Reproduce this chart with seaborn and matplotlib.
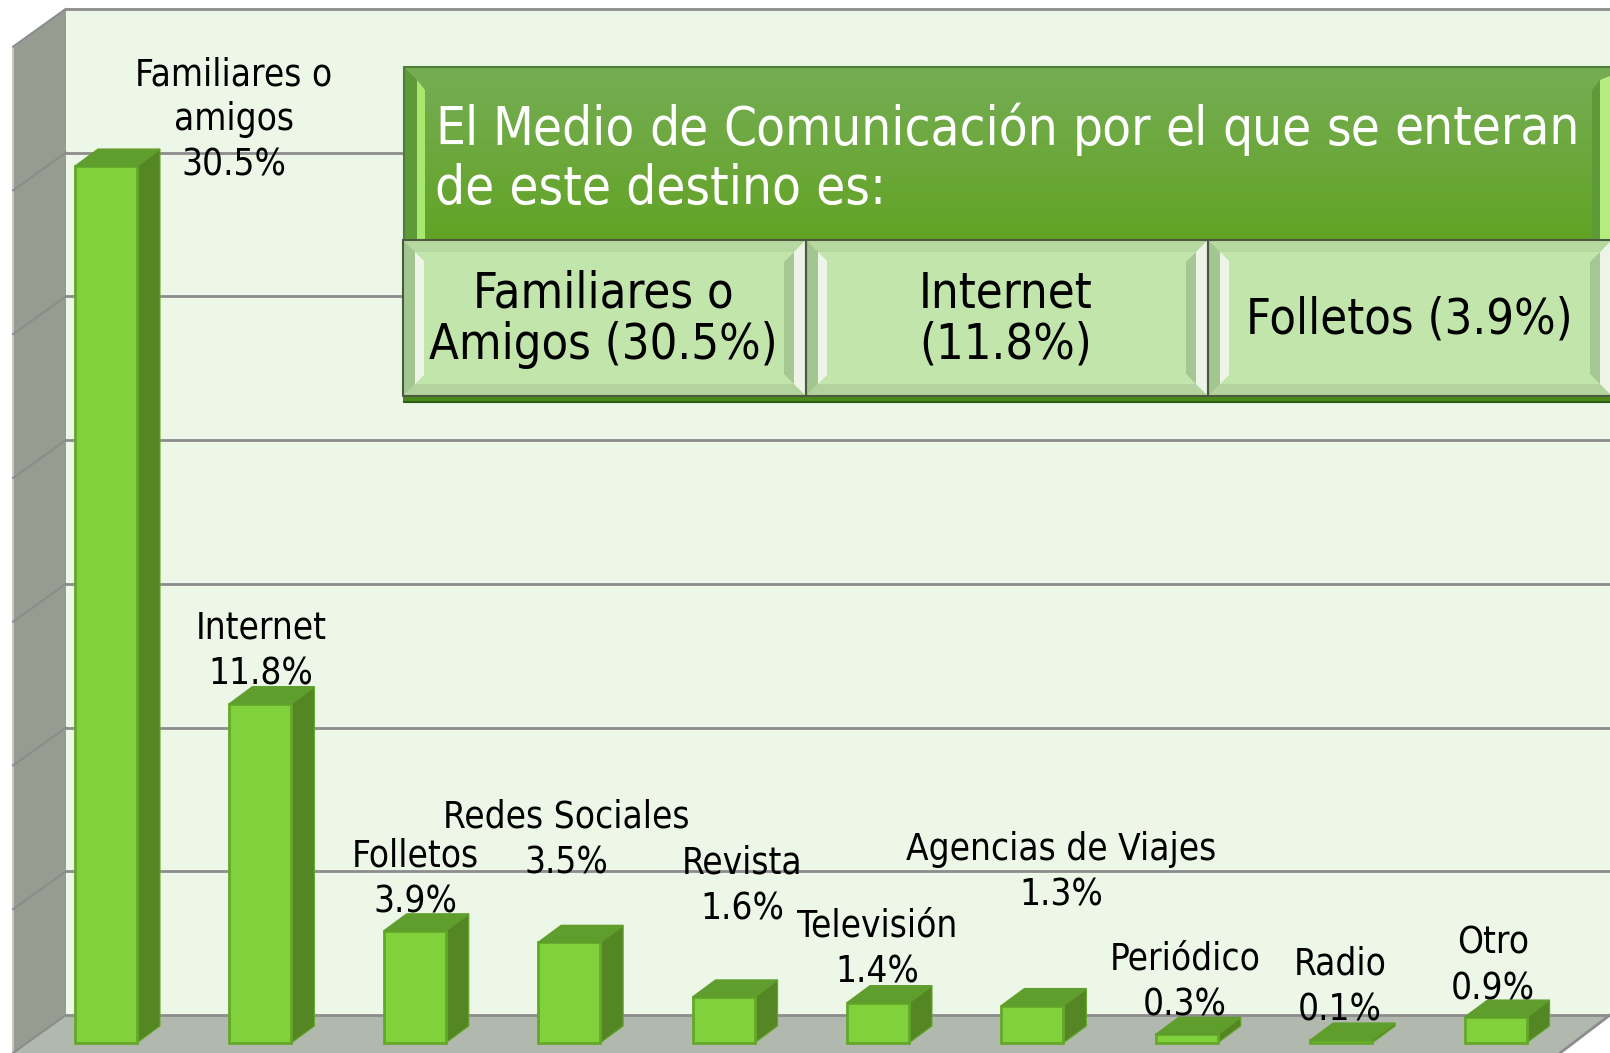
import numpy as np
import pandas as pd
import seaborn as sns
import matplotlib.pyplot as plt

categorias = ['Familiares o amigos', 'Internet', 'Folletos', 'Redes Sociales', 'Revista',
              'Televisión', 'Agencias de Viajes', 'Periódico', 'Radio', 'Otro']
valores = [30.5, 11.8, 3.9, 3.5, 1.6, 1.4, 1.3, 0.3, 0.1, 0.9]
etiquetas = ['Familiares o\namigos\n30.5%', 'Internet\n11.8%', 'Folletos\n3.9%', 'Redes Sociales\n3.5%',
             'Revista\n1.6%', 'Televisión\n1.4%', 'Agencias de Viajes\n1.3%', 'Periódico\n0.3%',
             'Radio\n0.1%', 'Otro\n0.9%']
# centre of each label, in pixels of the picture
etiqueta_x = [234, 261, 415, 566, 742, 877, 1061, 1185, 1340, 1493]
etiqueta_y = [120, 651, 879, 840, 886, 949, 872, 982, 987, 966]
ticks = [0, 5, 10, 15, 20, 25, 30, 35]

titulo = ['El Medio de Comunicación por el que se enteran', 'de este destino es:']
celdas = ['Familiares o\nAmigos (30.5%)', 'Internet\n(11.8%)', 'Folletos (3.9%)']

W, H = 1610, 1053
PX_X = 154.4   # pixels per category
PX_Y = 28.75   # pixels per percent
X0, Y0 = 106, 1043  # first bar centre, bar base

sns.set_style('white')
plt.rcParams['font.family'] = ['DejaVu Sans']
plt.rcParams['font.stretch'] = 'condensed'

fig = plt.figure(figsize=(W / 100, H / 100), dpi=100)
ax = fig.add_axes([0, 0, 1, 1])

df = pd.DataFrame({'medio': categorias, 'pct': valores})
sns.barplot(data=df, x='medio', y='pct', order=categorias, width=62 / PX_X, color='#80D13B', saturation=1,
            edgecolor='#64A82A', linewidth=2, ax=ax, zorder=3)
ax.set_xlim(-X0 / PX_X, (W - X0) / PX_X)
ax.set_ylim((Y0 - H) / PX_Y, Y0 / PX_Y)
ax.axis('off')


def dx(px):
    return (px - X0) / PX_X


def dy(py):
    return (Y0 - py) / PX_Y


# walls and floor
ax.fill([dx(66), dx(W), dx(W), dx(66)], [dy(8), dy(8), dy(1015), dy(1015)], color='#ECF7E8', zorder=0, lw=0)
ax.fill([dx(13), dx(66), dx(66), dx(13)], [dy(48), dy(8), dy(1015), dy(1053)], color='#979C91', zorder=0, lw=0)
ax.fill([dx(66), dx(W), dx(1560), dx(40), dx(13)], [dy(1015), dy(1015), dy(1053), dy(1053), dy(1053)],
        color='#B1B8AE', zorder=0, lw=0)
ax.plot([dx(13), dx(13)], [dy(48), dy(1053)], color='#C4C8C1', lw=1.5, zorder=0.5)
ax.plot([dx(W), dx(1560)], [dy(1015), dy(1053)], color='#8C8C8C', lw=2, zorder=0.5)

for t in ticks:
    yb = dy(1015) + t
    yf = dy(1053) + t
    ax.plot([dx(66), dx(W)], [yb, yb], color='#8C8C8C', lw=2, zorder=0.6)
    ax.plot([dx(13), dx(66)], [yf, yb], color='#8C8C8C', lw=1.5, zorder=0.6)

# 3d side and top of each bar
med = 31 / PX_X
px_d = 23 / PX_X
py_d = 17 / PX_Y
for i, v in enumerate(valores):
    ax.fill([i + med, i + med + px_d, i + med + px_d, i + med], [0, py_d, v + py_d, v],
            color='#548724', ec='#64A82A', lw=0.8, zorder=2.5)
    ax.fill([i - med, i + med, i + med + px_d, i - med + px_d], [v, v, v + py_d, v + py_d],
            color='#5F9E2C', ec='#5F9E2C', lw=1, zorder=3.5)
    ax.text(dx(etiqueta_x[i]), dy(etiqueta_y[i]), etiquetas[i], ha='center', va='center',
            fontsize=26.5, color='black', linespacing=1.28, zorder=6)

# title box and the three cells on top, in picture pixels
ov = fig.add_axes([0, 0, 1, 1], facecolor='none')
ov.set_xlim(0, W)
ov.set_ylim(H, 0)
ov.axis('off')


def box(x0, y0, x1, y1, c, **kw):
    ov.fill([x0, x1, x1, x0], [y0, y0, y1, y1], color=c, lw=0, **kw)


def gradient(x0, y0, x1, y1, top, bottom):
    a = np.array(plt.matplotlib.colors.to_rgb(top))
    b = np.array(plt.matplotlib.colors.to_rgb(bottom))
    s = np.linspace(0, 1, 64)[:, None, None]
    ov.imshow(a[None, None, :] * (1 - s) + b[None, None, :] * s, extent=[x0, x1, y1, y0], aspect='auto', zorder=1)
    ov.set_xlim(0, W)
    ov.set_ylim(H, 0)


gradient(404, 67, W, 242, '#76AD55', '#62A324')
ov.fill([404, 417, 417, 404], [67, 80, 242, 242], color='#5F9A38', lw=0, zorder=1.1)
ov.fill([417, 425, 425, 417], [80, 90, 242, 242], color='#A9E86F', lw=0, zorder=1.2)
ov.fill([1592, 1600, 1600, 1592], [90, 80, 242, 242], color='#5F9A38', lw=0, zorder=1.1)
ov.fill([1600, W, W, 1600], [80, 76, 242, 242], color='#B5EE80', lw=0, zorder=1.2)
ov.plot([404, W], [67, 67], color='#4F7F36', lw=1.5, zorder=1.3)
ov.plot([404, 404], [67, 402], color='#4F7F36', lw=1.5, zorder=1.3)
box(404, 396, W, 402, '#4A8A1A', zorder=1.1)
ov.plot([404, W], [402, 402], color='#2F5C10', lw=1.5, zorder=1.3)

# first title line is justified between 435 and 1580
rend = fig.canvas.get_renderer()
palabras = titulo[0].split(' ')
piezas = [ov.text(435, 130, p, color='white', fontsize=38, va='center', ha='left', zorder=5) for p in palabras]
anchos = [p.get_window_extent(rend).width for p in piezas]
hueco = (1580 - 435 - sum(anchos)) / (len(piezas) - 1)
xp = 435
for p, a in zip(piezas, anchos):
    p.set_x(xp)
    xp += a + hueco
ov.text(435, 189, titulo[1], color='white', fontsize=38, va='center', ha='left', zorder=5)

cx = [403, 806, 1208, W + 2]
for j, txt in enumerate(celdas):
    x0, x1 = cx[j], cx[j + 1]
    y0, y1 = 240, 396
    box(x0, y0, x1, y1, '#C2E5AC', zorder=2)
    ov.fill([x0, x1, x1 - 12, x0 + 12], [y0, y0, y0 + 12, y0 + 12], color='#B6D8A1', lw=0, zorder=2.1)
    ov.fill([x0, x1, x1 - 12, x0 + 12], [y1, y1, y1 - 12, y1 - 12], color='#B2D39D', lw=0, zorder=2.1)
    ov.fill([x0, x0 + 12, x0 + 12, x0], [y0, y0 + 12, y1 - 12, y1], color='#A3C690', lw=0, zorder=2.2)
    ov.fill([x0 + 12, x0 + 21, x0 + 21, x0 + 12], [y0 + 12, y0 + 21, y1 - 21, y1 - 12], color='#EEF5E8', lw=0, zorder=2.2)
    ov.fill([x1 - 12, x1 - 22, x1 - 22, x1 - 12], [y0 + 12, y0 + 22, y1 - 22, y1 - 12], color='#A5C794', lw=0, zorder=2.2)
    ov.fill([x1, x1 - 12, x1 - 12, x1], [y0, y0 + 12, y1 - 12, y1], color='#EDF3E6', lw=0, zorder=2.2)
    ov.plot([x0, x1, x1, x0, x0], [y0, y0, y1, y1, y0], color='#4A5A40', lw=1.5, zorder=2.5)
    ov.text((x0 + x1) / 2 - 1, 319, txt, color='black', fontsize=35, ha='center', va='center', linespacing=1.1, zorder=5)

fig.savefig('out.png', dpi=100)
